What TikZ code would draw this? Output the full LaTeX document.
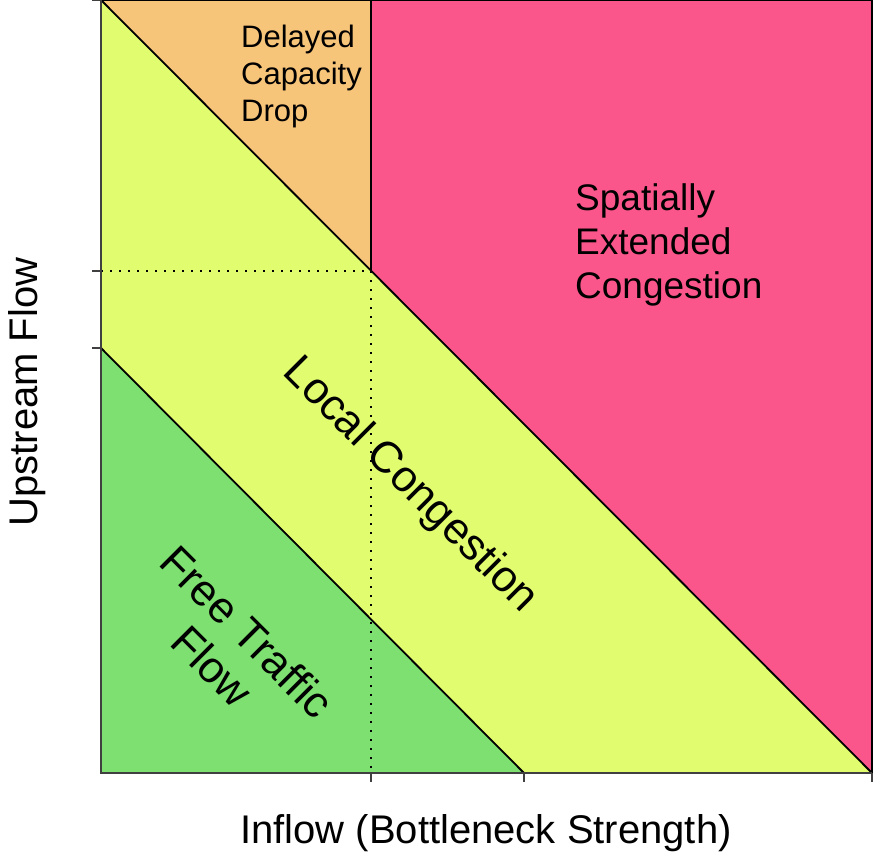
\documentclass[tikz,border=0pt]{standalone}
\usepackage{fontspec}
\setmainfont{Liberation Sans}
\definecolor{dropcol}{HTML}{F7C57A}
\definecolor{jamcol}{HTML}{FA568B}
\definecolor{localcol}{HTML}{E2FC6F}
\definecolor{freecol}{HTML}{7EE070}

\begin{document}
\begin{tikzpicture}[x=1pt, y=-1pt,
    border/.style={draw=black, line width=1.8pt},
    axisline/.style={draw=black!75, line width=1.6pt},
    guide/.style={draw=black, line width=2.2pt, dash pattern=on 2.2pt off 6.8pt},
    region/.style={inner sep=0pt, align=left, font=\fontsize{31}{37}\selectfont},
    bigregion/.style={inner sep=0pt, align=center, font=\fontsize{44}{49}\selectfont},
    axislabel/.style={inner sep=0pt, font=\fontsize{40}{46}\selectfont}]
  \useasboundingbox (0,0) rectangle (874,852);
  % corners and break points
  \coordinate (tl) at (101,0);
  \coordinate (tm) at (371,0);
  \coordinate (tr) at (872,0);
  \coordinate (br) at (872,773);
  \coordinate (bm) at (524,773);
  \coordinate (bc) at (371,773);
  \coordinate (bl) at (101,773);
  \coordinate (lm) at (101,348);
  \coordinate (lc) at (101,271);
  \coordinate (c)  at (371,271);
  % regions
  \fill[localcol] (tl) -- (c) -- (br) -- (bm) -- (lm) -- cycle;
  \fill[freecol]  (lm) -- (bm) -- (bl) -- cycle;
  \fill[dropcol]  (tl) -- (tm) -- (c) -- cycle;
  \fill[jamcol]   (tm) -- (tr) -- (br) -- (c) -- cycle;
  \path[guide] (lc) -- (c) -- (bc);
  \path[border] (tl) -- (br)
                (lm) -- (bm)
                (tm) -- (c)
                (tl) -- (tr) -- (br);
  \path[axisline] (tl) -- (bl) -- (br);
  % ticks
  \foreach \y in {0,271,348} \draw[axisline] (92,\y) -- (101,\y);
  \foreach \x in {371,524,872} \draw[axisline] (\x,773) -- (\x,782);
  % labels (base = last line)
  \node[region, anchor=base west] (drop) at (241,121) {Delayed\\Capacity\\Drop};
  \node[region, anchor=base west, font=\fontsize{37}{44}\selectfont] (jam) at (575,298) {Spatially\\Extended\\Congestion};
  \node[bigregion, rotate=-45] (local) at (410,486) {Local Congestion};
  \node[bigregion, rotate=-45] (free) at (230,649) {Free Traffic\\Flow};
  \node[axislabel, anchor=base] (xlab) at (486,843) {Inflow (Bottleneck Strength)};
  \node[axislabel, anchor=base, rotate=90] (ylab) at (37,392) {Upstream Flow};
\end{tikzpicture}
\end{document}
